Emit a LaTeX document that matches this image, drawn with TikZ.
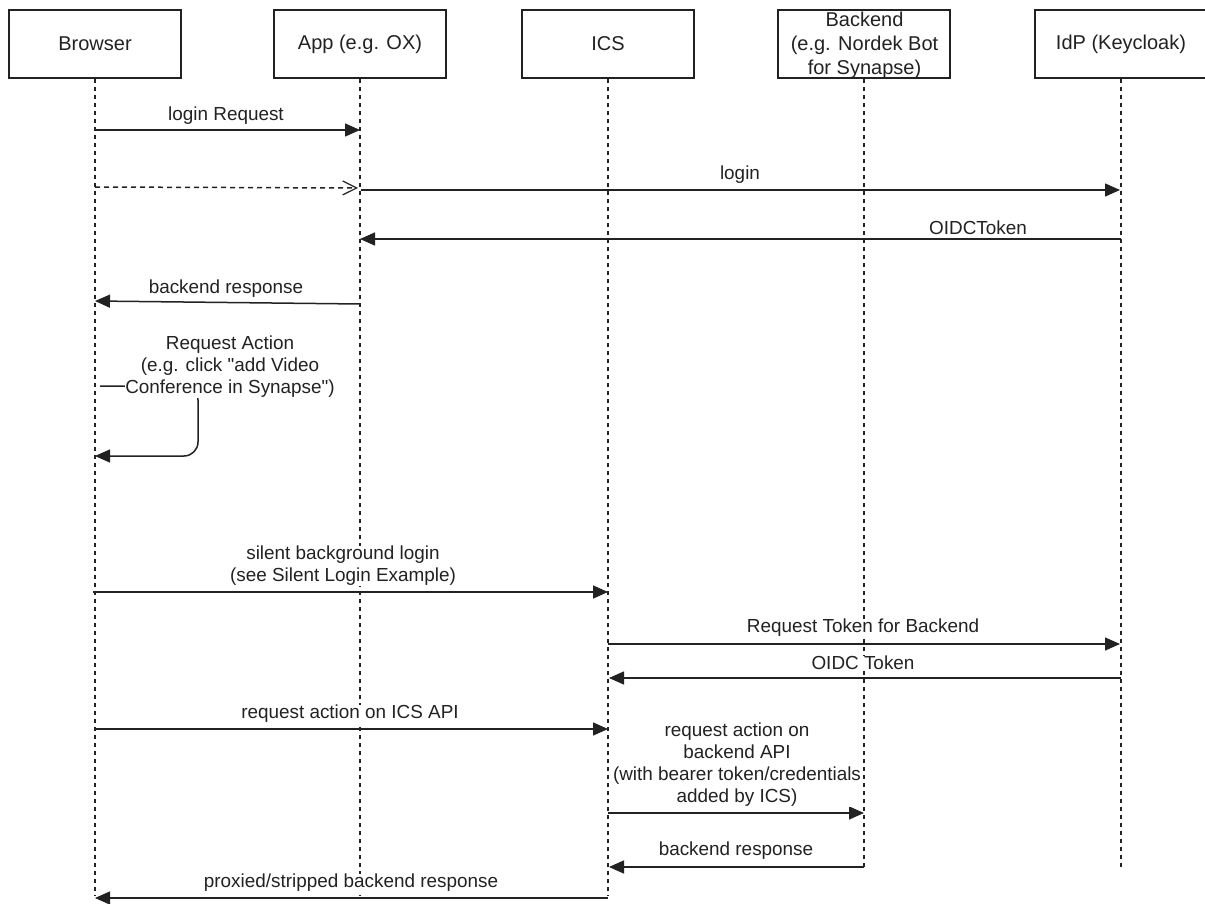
\documentclass[tikz,border=0pt]{standalone}
\usepackage{fontspec}
\newfontfamily\lsans{Liberation Sans}
\usetikzlibrary{arrows.meta}
\definecolor{ink}{HTML}{222222}
\tikzset{
  actor/.style={draw=ink,line width=1.4pt,fill=white,minimum width=172pt,minimum height=68pt,inner sep=0pt,align=center,text=ink,font=\fontsize{20}{23.7}\lsans},
  life/.style={draw=ink,line width=1.3pt,dash pattern=on 4pt off 4pt},
  msg/.style={draw=ink,line width=1.5pt,-{Triangle[length=15pt,width=13pt]}},
  reply/.style={draw=ink,line width=1.5pt,dash pattern=on 5pt off 4pt,-{Straight Barb[length=14pt,width=14pt,line width=1.2pt]}},
  lbl/.style={fill=white,inner sep=0.5pt,align=center,text=ink,font=\fontsize{18.9}{22}\lsans},
  lblb/.style={inner sep=1pt,align=center,text=ink,font=\fontsize{20}{23.7}\lsans}
}
\begin{document}
\begin{tikzpicture}[x=1pt,y=-1pt]
\useasboundingbox (0,0) rectangle (1205,904);
% lifelines first, behind everything
\coordinate (browserEnd) at (95,896);
\coordinate (appEnd) at (360,896);
\coordinate (icsEnd) at (608,896);
\coordinate (backendEnd) at (864,868);
\coordinate (idpEnd) at (1121,868);
\node[actor] (browser) at (95,44) {Browser};
\node[actor] (app) at (360,44) {App (e.g. OX)};
\node[actor] (ics) at (608,44) {ICS};
\node[actor] (backend) at (864,44) {};
\node[actor] (idp) at (1121,44) {IdP (Keycloak)};
\draw[life] (browser.south) -- (browserEnd);
\draw[life] (app.south) -- (appEnd);
\draw[life] (ics.south) -- (icsEnd);
\draw[life] (backend.south) -- (backendEnd);
\draw[life] (idp.south) -- (idpEnd);
\node[lblb] (backendtext) at (864.5,45.5) {Backend\\(e.g. Nordek Bot\\for Synapse)};
% message end points on the lifelines
\coordinate (m1a) at (95,130);   \coordinate (m1b) at (360,130);
\coordinate (m2a) at (95,187);   \coordinate (m2b) at (358,188);
\coordinate (m3a) at (361,190);  \coordinate (m3b) at (1120,190);
\coordinate (m4a) at (1121,239); \coordinate (m4b) at (360,239);
\coordinate (m5a) at (360,304);  \coordinate (m5b) at (95,301);
\coordinate (m6a) at (100,386);  \coordinate (m6c) at (198,386);
\coordinate (m6d) at (198,456);  \coordinate (m6b) at (95,456);
\coordinate (m7a) at (93,592);   \coordinate (m7b) at (608,592);
\coordinate (m8a) at (608,644);  \coordinate (m8b) at (1120,644);
\coordinate (m9a) at (1121,678); \coordinate (m9b) at (609,678);
\coordinate (m10a) at (95,729);  \coordinate (m10b) at (608,729);
\coordinate (m11a) at (608,813); \coordinate (m11b) at (864,813);
\coordinate (m12a) at (864,867); \coordinate (m12b) at (609,867);
\coordinate (m13a) at (608,898); \coordinate (m13b) at (95,898);
\draw[msg] (m1a) -- (m1b);
\draw[reply] (m2a) -- (m2b);
\draw[msg] (m3a) -- (m3b);
\draw[msg] (m4a) -- (m4b);
\draw[msg] (m5a) -- (m5b);
\draw[msg,rounded corners=14pt] (m6a) -- (m6c) -- (m6d) -- (m6b);
\draw[msg] (m7a) -- (m7b);
\draw[msg] (m8a) -- (m8b);
\draw[msg] (m9a) -- (m9b);
\draw[msg] (m10a) -- (m10b);
\draw[msg] (m11a) -- (m11b);
\draw[msg] (m12a) -- (m12b);
\draw[msg] (m13a) -- (m13b);
% labels
\node[lbl] (l1) at (226,116) {login Request};
\node[lbl] (l3) at (740,175) {login};
\node[lbl] (l4) at (978,228) {OIDCToken};
\node[lbl] (l5) at (226,288.5) {backend response};
\node[lbl] (l6) at (230,367) {Request Action\\(e.g. click "add Video\\Conference in Synapse")};
\node[lbl] (l7) at (343,566) {silent background login\\(see Silent Login Example)};
\node[lbl] (l8) at (863,628) {Request Token for Backend};
\node[lbl] (l9) at (863,663) {OIDC Token};
\node[lbl] (l10) at (350,714) {request action on ICS API};
\node[lbl] (l11) at (737,765) {request action on\\backend API\\(with bearer token/credentials\\added by ICS)};
\node[lbl] (l12) at (736,851) {backend response};
\node[lbl] (l13) at (351,883) {proxied/stripped backend response};
\end{tikzpicture}
\end{document}
